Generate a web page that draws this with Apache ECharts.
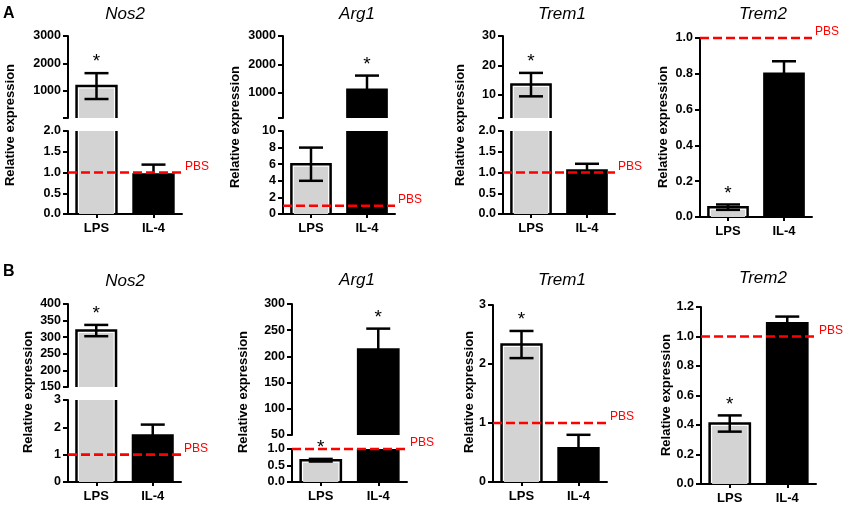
<!DOCTYPE html>
<html>
<head>
<meta charset="utf-8">
<title>Relative expression</title>
<script src="https://cdn.jsdelivr.net/npm/echarts@6/dist/echarts.min.js"></script>
<style>
  html, body { margin: 0; padding: 0; background: #fff; }
  #chart { width: 845px; height: 505px; }
</style>
</head>
<body>
<div id="chart"></div>
<script>
var categories = ['LPS', 'IL-4'];
var genes = ['Nos2', 'Arg1', 'Trem1', 'Trem2'];
var rowLabels = ['A', 'B'];
var pbsLevel = 1;

// row A: mean / SEM per gene, [LPS, IL-4]
var meanA = [[1180, 0.95], [6, 1100], [13.4, 1.05], [0.055, 0.80]];
var semA  = [[470, 0.24], [2, 500], [4, 0.16], [0.015, 0.07]];
var starA = [[1, 0], [0, 1], [1, 0], [1, 0]];

// row B
var meanB = [[320, 1.7], [0.66, 213], [2.33, 0.57], [0.41, 1.09]];
var semB  = [[17, 0.4], [0.04, 40], [0.23, 0.23], [0.055, 0.045]];
var starB = [[1, 0], [1, 1], [1, 0], [1, 0]];

// tick labels (upper segment first when the axis is broken)
var ticksA = [
  [['1000', '2000', '3000'], ['0.0', '0.5', '1.0', '1.5', '2.0']],
  [['1000', '2000', '3000'], ['0', '2', '4', '6', '8', '10']],
  [['10', '20', '30'], ['0.0', '0.5', '1.0', '1.5', '2.0']],
  [['0.0', '0.2', '0.4', '0.6', '0.8', '1.0']]
];
var ticksB = [
  [['150', '200', '250', '300', '350', '400'], ['0', '1', '2', '3']],
  [['50', '100', '150', '200', '250', '300'], ['0.0', '0.5', '1.0']],
  [['0', '1', '2', '3']],
  [['0.0', '0.2', '0.4', '0.6', '0.8', '1.0', '1.2']]
];

// panel placement in pixels, axis segments top to bottom
var layout = [
  [
    {left: 68, width: 114, title: [125, 14], name: [10, 125],
     seg: [{top: 36, bottom: 118, min: 20, max: 3000}, {top: 131, bottom: 214, min: 0, max: 2}]},
    {left: 283, width: 112, title: [357, 14], name: [235, 127],
     seg: [{top: 36, bottom: 118, min: 100, max: 3000}, {top: 131, bottom: 214, min: 0, max: 10}]},
    {left: 503, width: 112, title: [562, 14], name: [460, 125],
     seg: [{top: 36, bottom: 118, min: 2, max: 30}, {top: 131, bottom: 214, min: 0, max: 2}]},
    {left: 700, width: 112, title: [763, 14], name: [663, 127],
     seg: [{top: 38, bottom: 217, min: 0, max: 1}]}
  ],
  [
    {left: 68, width: 113, title: [125, 281], name: [28, 392],
     seg: [{top: 304, bottom: 387, min: 150, max: 400}, {top: 400, bottom: 482, min: 0, max: 3}]},
    {left: 292, width: 115, title: [357, 280], name: [243, 392],
     seg: [{top: 304, bottom: 435, min: 50, max: 300}, {top: 449, bottom: 482, min: 0, max: 1}]},
    {left: 493, width: 114, title: [562, 280], name: [469, 392],
     seg: [{top: 305, bottom: 482, min: 0, max: 3}]},
    {left: 701, width: 115, title: [763, 278], name: [666, 395],
     seg: [{top: 307, bottom: 484, min: 0, max: 1.2}]}
  ]
];

var FONT = '"Liberation Sans", Arial, sans-serif';

// bar (open where the axis is broken) + error bar + asterisk, for one axis segment
function makeBarRenderer(segMin, segMax) {
  return function (params, api) {
    var cs = params.coordSys;
    var idx = api.value(0);
    var v = api.value(1), e = api.value(2), star = api.value(3);
    var bw = api.size([1, 0])[0] * 0.7;
    var p = api.coord([idx, v]);
    var cx = p[0];
    var yBase = Math.min(api.coord([idx, 0])[1], cs.y + cs.height);
    var x0 = cx - bw / 2, x1 = cx + bw / 2;
    var lw = 2.5;
    var kids = [];
    if (v <= segMin) return {type: 'group', children: kids};
    var inSeg = v <= segMax;
    var top = inSeg ? p[1] : cs.y;
    var grey = idx === 0;
    var ins = grey ? lw : 0;
    var fy = inSeg ? top + ins : top;
    kids.push({type: 'rect', shape: {x: x0 + ins, y: fy, width: bw - 2 * ins, height: yBase - fy},
      style: {fill: grey ? '#d3d3d3' : '#000', lineWidth: 0}});
    if (inSeg) {
      kids.push({type: 'polyline', shape: {points: [[x0, yBase], [x0, top], [x1, top], [x1, yBase]]},
        style: {stroke: '#000', lineWidth: lw, fill: null}});
      var yt = api.coord([idx, v + e])[1];
      var yb = api.coord([idx, v - e])[1];
      var cap = 12;
      kids.push({type: 'line', shape: {x1: cx, y1: yb, x2: cx, y2: yt}, style: {stroke: '#000', lineWidth: lw}});
      kids.push({type: 'line', shape: {x1: cx - cap, y1: yt, x2: cx + cap, y2: yt}, style: {stroke: '#000', lineWidth: lw}});
      kids.push({type: 'line', shape: {x1: cx - cap, y1: yb, x2: cx + cap, y2: yb}, style: {stroke: '#000', lineWidth: lw}});
      if (star) {
        kids.push({type: 'text', x: cx, y: yt - 11,
          style: {text: '*', font: '19px ' + FONT, fill: '#000', align: 'center', verticalAlign: 'middle'}});
      }
    } else {
      kids.push({type: 'line', shape: {x1: x0, y1: yBase, x2: x0, y2: top}, style: {stroke: '#000', lineWidth: lw}});
      kids.push({type: 'line', shape: {x1: x1, y1: yBase, x2: x1, y2: top}, style: {stroke: '#000', lineWidth: lw}});
    }
    return {type: 'group', children: kids};
  };
}

// dashed PBS reference line
function renderPbs(params, api) {
  var cs = params.coordSys;
  var y = api.coord([0, api.value(1)])[1];
  return {type: 'group', children: [
    {type: 'line', shape: {x1: cs.x, y1: y, x2: cs.x + cs.width, y2: y},
      style: {stroke: '#ff0000', lineWidth: 2.6, lineDash: [9, 4]}},
    {type: 'text', x: cs.x + cs.width + 3, y: y - 6,
      style: {text: 'PBS', font: '12px ' + FONT, fill: '#ff0000', align: 'left', verticalAlign: 'middle'}}
  ]};
}

var grids = [], xAxes = [], yAxes = [], series = [], texts = [];
var rows = [[meanA, semA, starA, ticksA], [meanB, semB, starB, ticksB]];

rows.forEach(function (row, r) {
  var means = row[0], sems = row[1], stars = row[2], ticks = row[3];
  layout[r].forEach(function (p, g) {
    p.seg.forEach(function (s, k) {
      var gi = grids.length;
      var lower = k === p.seg.length - 1;
      var labels = ticks[g][k];
      var labelVals = labels.map(Number);
      var tickVals = labelVals.indexOf(s.min) < 0 ? [s.min].concat(labelVals) : labelVals;
      grids.push({left: p.left, top: s.top, width: p.width, height: s.bottom - s.top});
      xAxes.push({
        type: 'category', gridIndex: gi, data: categories, show: lower,
        axisLine: {onZero: false, lineStyle: {color: '#000', width: 2}},
        axisTick: {show: true, alignWithLabel: true, length: 4, lineStyle: {color: '#000', width: 2}},
        axisLabel: {color: '#000', fontWeight: 'bold', fontSize: 13, fontFamily: FONT, margin: 8},
        splitLine: {show: false}
      });
      yAxes.push({
        type: 'value', gridIndex: gi, min: s.min, max: s.max,
        axisLine: {show: true, onZero: false, lineStyle: {color: '#000', width: 2}},
        axisTick: {show: true, length: 5, customValues: tickVals, lineStyle: {color: '#000', width: 2}},
        axisLabel: {
          customValues: labelVals, color: '#000', fontWeight: 'bold', fontSize: 12.5,
          fontFamily: FONT, margin: 7,
          formatter: function (val) {
            for (var i = 0; i < labelVals.length; i++) {
              if (Math.abs(labelVals[i] - val) < 1e-9) return labels[i];
            }
            return '';
          }
        },
        splitLine: {show: false}
      });
      series.push({
        type: 'custom', xAxisIndex: gi, yAxisIndex: gi, z: 2,
        encode: {x: 0, y: 1},
        renderItem: makeBarRenderer(lower ? -Infinity : s.min, s.max),
        data: categories.map(function (c, i) {
          return [i, means[g][i], sems[g][i], stars[g][i]];
        })
      });
      if (lower) {
        series.push({
          type: 'custom', xAxisIndex: gi, yAxisIndex: gi, z: 5,
          encode: {x: 0, y: 1},
          renderItem: renderPbs,
          data: [[0, pbsLevel]]
        });
      }
    });
    texts.push({type: 'text', x: p.title[0], y: p.title[1],
      style: {text: genes[g], font: 'italic 17px ' + FONT, fill: '#000',
        align: 'center', verticalAlign: 'middle', textAlign: 'center', textVerticalAlign: 'middle'}});
    texts.push({type: 'text', x: p.name[0], y: p.name[1], rotation: Math.PI / 2,
      style: {text: 'Relative expression', font: 'bold 13px ' + FONT, fill: '#000',
        align: 'center', verticalAlign: 'middle', textAlign: 'center', textVerticalAlign: 'middle'}});
  });
});

texts.push({type: 'text', x: 3, y: 14,
  style: {text: rowLabels[0], font: 'bold 16px ' + FONT, fill: '#000', verticalAlign: 'middle', textVerticalAlign: 'middle'}});
texts.push({type: 'text', x: 3, y: 272,
  style: {text: rowLabels[1], font: 'bold 16px ' + FONT, fill: '#000', verticalAlign: 'middle', textVerticalAlign: 'middle'}});

var chart = echarts.init(document.getElementById('chart'));
chart.setOption({
  animation: false,
  backgroundColor: '#fff',
  grid: grids,
  xAxis: xAxes,
  yAxis: yAxes,
  series: series,
  graphic: {elements: texts}
});
</script>
</body>
</html>
